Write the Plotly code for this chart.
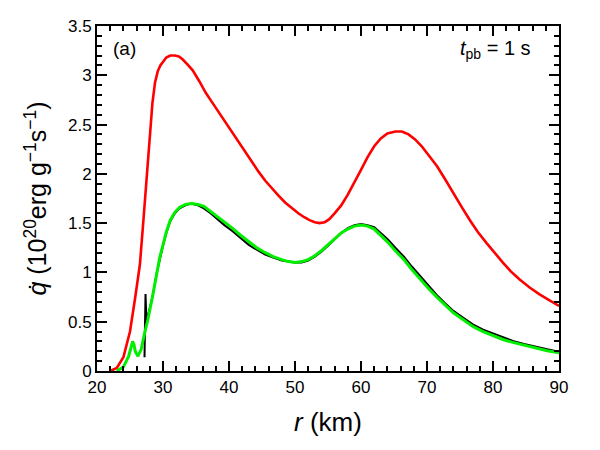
import plotly.graph_objects as go

# Red curve
red_r = [22.0, 23.0, 24.0, 25.0, 25.8, 26.5, 27.0, 27.6, 28.0, 28.4, 28.8, 29.2, 29.6, 30.0, 30.5, 31.1, 31.8, 32.4, 33.0,
         33.7, 34.5, 35.5, 36.5, 37.5, 38.5, 39.5, 40.5, 41.5, 42.5, 43.5, 44.5, 45.5, 46.5, 47.5, 48.5, 49.5, 50.5, 51.4,
         52.2, 53.0, 53.7, 54.5, 55.2, 56.0, 57.0, 58.0, 59.0, 60.0, 61.0, 62.0, 63.0, 64.0, 65.2, 66.2, 67.2, 68.2,
         69.2, 70.3, 71.5, 72.7, 74.0, 75.2, 76.5, 77.7, 79.0, 80.2, 81.5, 82.7, 84.0, 85.5, 87.0, 88.5, 90.0]
red_q = [0.0, 0.03, 0.14, 0.4, 0.75, 1.08, 1.5, 2.04, 2.44, 2.72, 2.93, 3.04, 3.1, 3.14, 3.18, 3.2, 3.2, 3.19, 3.16,
         3.11, 3.05, 2.94, 2.82, 2.72, 2.62, 2.52, 2.41, 2.31, 2.21, 2.11, 2.02, 1.93, 1.85, 1.78, 1.71, 1.65, 1.6, 1.56,
         1.53, 1.51, 1.5, 1.51, 1.54, 1.6, 1.68, 1.79, 1.91, 2.04, 2.17, 2.28, 2.36, 2.41, 2.43, 2.43, 2.4, 2.35,
         2.28, 2.19, 2.08, 1.95, 1.8, 1.67, 1.53, 1.41, 1.3, 1.2, 1.1, 1.01, 0.93, 0.85, 0.78, 0.72, 0.66]

# Green curve
green_r = [23.0, 24.0, 24.8, 25.1, 25.4, 25.6, 25.8, 26.2, 26.7, 27.2, 27.7, 28.4, 29.1, 29.5, 30.0, 30.5, 31.1, 31.8, 32.5,
           33.4, 34.4, 35.3, 36.2, 37.2, 38.2, 39.3, 40.5, 41.7, 43.0, 44.2, 45.5, 46.7, 48.0, 49.0, 50.0, 51.0, 52.0, 53.0,
           54.0, 55.0, 56.0, 57.0, 58.0, 59.0, 60.0, 61.0, 62.0, 63.0, 64.0, 65.2, 66.5, 67.7, 69.0, 70.2, 71.5, 72.7,
           74.0, 75.5, 77.0, 78.5, 80.0, 81.5, 83.0, 84.7, 86.5, 88.2, 90.0]
green_q = [0.0, 0.04, 0.15, 0.22, 0.3, 0.27, 0.2, 0.15, 0.22, 0.38, 0.52, 0.75, 1.02, 1.15, 1.28, 1.41, 1.53, 1.61, 1.66,
           1.69, 1.70, 1.69, 1.67, 1.62, 1.57, 1.51, 1.45, 1.38, 1.31, 1.25, 1.2, 1.16, 1.13, 1.11, 1.1, 1.11, 1.13, 1.17,
           1.22, 1.28, 1.34, 1.4, 1.44, 1.47, 1.48, 1.47, 1.44, 1.38, 1.31, 1.22, 1.13, 1.03, 0.93, 0.84, 0.75, 0.67,
           0.59, 0.52, 0.45, 0.4, 0.36, 0.32, 0.29, 0.26, 0.23, 0.205, 0.185]

# Black curve
black_r = [27.2, 27.35, 27.5, 27.8, 28.4, 29.1, 29.5, 30.0, 30.5, 31.1, 31.8, 32.5, 33.4, 34.2, 35.3, 36.2, 37.2, 38.2,
           39.3, 40.5, 41.7, 43.0, 44.2, 45.5, 46.7, 48.0, 49.0, 50.0, 51.0, 52.0, 53.0, 54.0, 55.0, 56.0, 57.0, 58.0,
           59.0, 60.0, 61.0, 62.0, 63.0, 64.0, 65.2, 66.5, 67.7, 69.0, 70.2, 71.5, 72.7, 74.0, 75.5, 77.0, 78.5, 80.0,
           81.5, 83.0, 84.7, 86.5, 88.2, 90.0]
black_q = [0.14, 0.78, 0.5, 0.58, 0.75, 1.01, 1.14, 1.27, 1.4, 1.52, 1.6, 1.65, 1.68, 1.70, 1.68, 1.65, 1.6, 1.54,
           1.48, 1.42, 1.35, 1.28, 1.23, 1.18, 1.15, 1.12, 1.11, 1.1, 1.1, 1.12, 1.16, 1.21, 1.27, 1.34, 1.4, 1.45,
           1.48, 1.49, 1.48, 1.46, 1.4, 1.34, 1.25, 1.16, 1.06, 0.96, 0.87, 0.77, 0.69, 0.61, 0.54, 0.47, 0.42, 0.38,
           0.34, 0.305, 0.275, 0.245, 0.22, 0.195]

FONT = "Liberation Sans"

fig = go.Figure()
fig.add_trace(go.Scatter(x=red_r, y=red_q, mode="lines", line=dict(color="#ff0000", width=2.6)))
fig.add_trace(go.Scatter(x=black_r, y=black_q, mode="lines", line=dict(color="#000000", width=2.0)))
fig.add_trace(go.Scatter(x=green_r, y=green_q, mode="lines", line=dict(color="#00ee00", width=3.0)))

fig.update_xaxes(range=[20, 90], dtick=10, tick0=20,
                 ticks="inside", ticklen=10, tickwidth=2, tickcolor="black",
                 showline=True, linecolor="black", linewidth=2, mirror="allticks",
                 minor=dict(ticks="inside", ticklen=5, tickwidth=1.5, tickcolor="black", dtick=2),
                 tickfont=dict(family=FONT, size=17, color="black"),
                 title=dict(text="<i>r</i> (km)", font=dict(family=FONT, size=26, color="black"), standoff=16))
fig.update_yaxes(range=[0, 3.5], dtick=0.5, tick0=0,
                 ticks="inside", ticklen=10, tickwidth=2, tickcolor="black",
                 showline=True, linecolor="black", linewidth=2, mirror="allticks",
                 minor=dict(ticks="inside", ticklen=5, tickwidth=1.5, tickcolor="black", dtick=0.1),
                 tickfont=dict(family=FONT, size=17, color="black"),
                 title=dict(text="<i>q̇</i> (10<sup>20</sup>erg g<sup>−1</sup>s<sup>−1</sup>)",
                            font=dict(family=FONT, size=25, color="black"), standoff=14))

fig.add_annotation(x=0.03, y=0.97, xref="paper", yref="paper", xanchor="left", yanchor="top",
                   text="(a)", showarrow=False, font=dict(family=FONT, size=19, color="black"))
fig.add_annotation(x=0.944, y=0.975, xref="paper", yref="paper", xanchor="right", yanchor="top",
                   text="<i>t</i><sub>pb</sub> = 1 s", showarrow=False, font=dict(family=FONT, size=20, color="black"))

fig.update_layout(width=600, height=450, margin=dict(l=97, r=41, t=26, b=79),
                  plot_bgcolor="white", showlegend=False)

fig.write_html("out.html")
